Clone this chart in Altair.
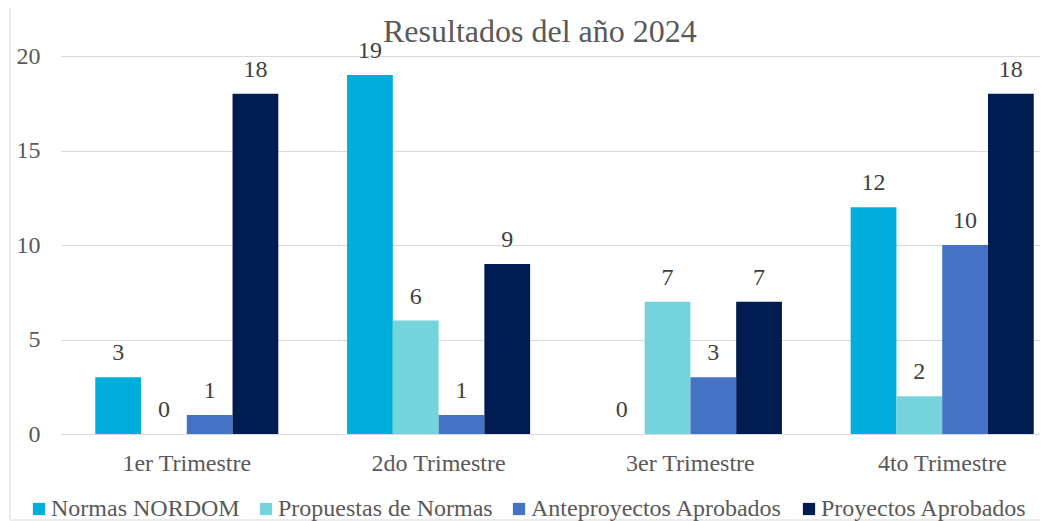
import altair as alt
import pandas as pd

quarters = ["1er Trimestre", "2do Trimestre", "3er Trimestre", "4to Trimestre"]
series = ["Normas NORDOM", "Propuestas de Normas", "Anteproyectos Aprobados", "Proyectos Aprobados"]
normas_nordom = [3, 19, 0, 12]
propuestas = [0, 6, 7, 2]
anteproyectos = [1, 1, 3, 10]
proyectos = [18, 9, 7, 18]
colors = ["#00AEDB", "#74D3DB", "#4472C4", "#001C50"]

rows = []
for s, vals in zip(series, [normas_nordom, propuestas, anteproyectos, proyectos]):
    for q, v in zip(quarters, vals):
        rows.append({"trimestre": q, "serie": s, "valor": v})
df = pd.DataFrame(rows)

FONT = "Liberation Serif"
GRAY = "#595959"

x = alt.X("trimestre:N", sort=quarters, title=None,
          scale=alt.Scale(range=[0, 1007], paddingInner=0.273, paddingOuter=0.136),
          axis=alt.Axis(labelAngle=0, ticks=False, domainColor="#d9d9d9", labelPadding=17,
                        labelFontSize=24, labelColor=GRAY, labelFont=FONT))
xo = alt.XOffset("serie:N", sort=series, scale=alt.Scale(paddingInner=0, paddingOuter=0))
y = alt.Y("valor:Q", title=None,
          scale=alt.Scale(domain=[0, 20], nice=False),
          axis=alt.Axis(values=[0, 5, 10, 15, 20], domain=False, ticks=False, gridColor="#d9d9d9",
                        labelPadding=21, labelFontSize=24, labelColor=GRAY, labelFont=FONT))

bars = alt.Chart(df).mark_bar().encode(
    x=x, xOffset=xo, y=y,
    color=alt.Color("serie:N", sort=series, scale=alt.Scale(domain=series, range=colors),
                    legend=alt.Legend(title=None, orient="none", direction="horizontal",
                                      legendX=-34, legendY=441, symbolType="square", symbolSize=150,
                                      symbolStrokeWidth=0, labelFontSize=24, labelFont=FONT,
                                      labelColor=GRAY, columnPadding=14, labelOffset=0,
                                      labelLimit=400)),
)

labels = alt.Chart(df).mark_text(baseline="middle", dy=-24, fontSize=24, color="#404040", font=FONT).encode(
    x=x, xOffset=xo, y=y, text=alt.Text("valor:Q")
)

frame = alt.Chart(pd.DataFrame({"k": [0]})).mark_rect(color="white", fillOpacity=0, stroke="#d9d9d9", strokeWidth=1).encode(
    x=alt.value(-51), x2=alt.value(1100), y=alt.value(-49), y2=alt.value(464)
)

chart = alt.layer(frame, bars, labels).properties(
    width=979, height=378,
    autosize=alt.AutoSizeParams(type="none"),
    padding={"left": 53, "top": 48, "right": 0, "bottom": 87},
    title=alt.TitleParams("Resultados del año 2024", fontSize=32, fontWeight="normal", font=FONT,
                          color=GRAY, anchor="start", frame="group", dx=322, dy=67, offset=0,
                          baseline="alphabetic"),
).configure_view(stroke=None)

chart.save("out.html", embed_options={"renderer": "svg", "actions": False})
